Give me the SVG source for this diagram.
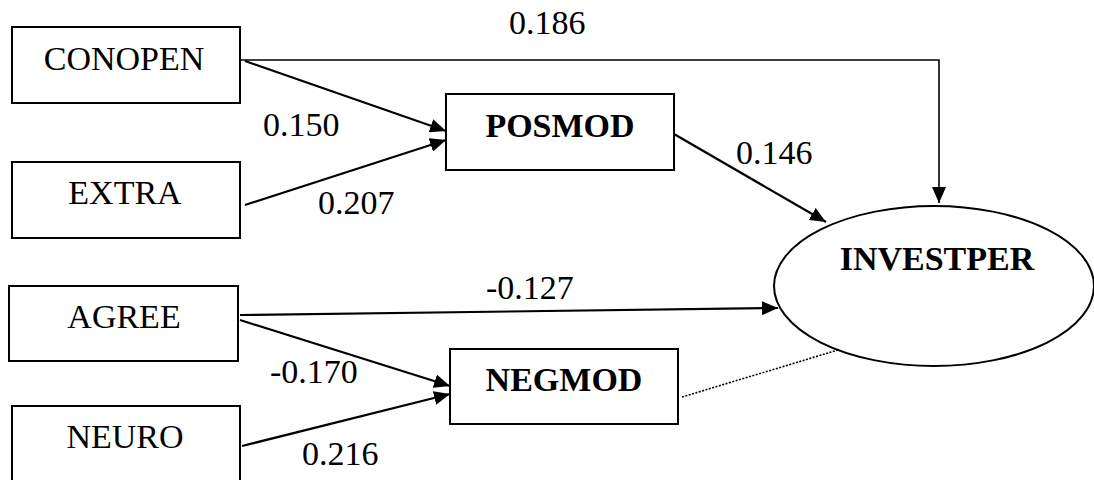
<svg xmlns="http://www.w3.org/2000/svg" width="1094" height="480" viewBox="0 0 1094 480">
<style>
.box{fill:#fff;stroke:#000;stroke-width:2}
text{font-family:'Liberation Serif','DejaVu Serif',serif;font-size:34px;fill:#000}
.lbl{text-anchor:middle}
.b{font-weight:bold}
.edge{fill:none;stroke:#000;stroke-width:2.2}
.thin{fill:none;stroke:#000;stroke-width:1.6}
.dot{fill:none;stroke:#000;stroke-width:1.6;stroke-dasharray:2 1.5}
</style>
<defs>
<marker id="ah" markerUnits="userSpaceOnUse" markerWidth="18" markerHeight="14" refX="16" refY="7" orient="auto">
<path d="M0,0 L16,7 L0,14 z" fill="#000"/>
</marker>
</defs>
<rect width="1094" height="480" fill="#fff"/>
<g id="connectors">
<polyline class="thin" points="240,60 939,60 939,203" marker-end="url(#ah)"/>
<line class="edge" x1="245" y1="61" x2="446" y2="131" marker-end="url(#ah)"/>
<line class="edge" x1="245" y1="205" x2="446" y2="140" marker-end="url(#ah)"/>
<line class="edge" x1="674" y1="134" x2="826" y2="222" marker-end="url(#ah)"/>
<line class="edge" x1="240" y1="315" x2="778" y2="308" marker-end="url(#ah)"/>
<line class="edge" x1="240" y1="320" x2="450" y2="386" marker-end="url(#ah)"/>
<line class="edge" x1="242" y1="446" x2="450" y2="394" marker-end="url(#ah)"/>
<line class="dot" x1="682" y1="397" x2="838" y2="350"/>
</g>
<g id="labels" font-family="Liberation Serif, serif">
<text x="509" y="34">0.186</text>
<text x="263" y="136">0.150</text>
<text x="318" y="214">0.207</text>
<text x="736" y="164">0.146</text>
<text x="486" y="299">-0.127</text>
<text x="270" y="383">-0.170</text>
<text x="302" y="465">0.216</text>
</g>
<g id="CONOPEN"><rect class="box" x="12" y="27" width="228" height="76"/><text class="lbl" x="124" y="70">CONOPEN</text></g>
<g id="EXTRA"><rect class="box" x="12" y="162" width="228" height="76"/><text class="lbl" x="125" y="204">EXTRA</text></g>
<g id="AGREE"><rect class="box" x="9" y="286" width="229" height="75"/><text class="lbl" x="124" y="328">AGREE</text></g>
<g id="NEURO"><rect class="box" x="12" y="406" width="228" height="76"/><text class="lbl" x="125" y="448">NEURO</text></g>
<g id="POSMOD"><rect class="box" x="446" y="94" width="228" height="76"/><text class="lbl b" x="560" y="137">POSMOD</text></g>
<g id="NEGMOD"><rect class="box" x="450" y="349" width="228" height="75"/><text class="lbl b" x="564" y="391">NEGMOD</text></g>
<g id="INVESTPER"><ellipse cx="934" cy="286" rx="160" ry="80" fill="none" stroke="#000" stroke-width="2"/><text class="lbl b" x="937" y="270">INVESTPER</text></g>
</svg>
